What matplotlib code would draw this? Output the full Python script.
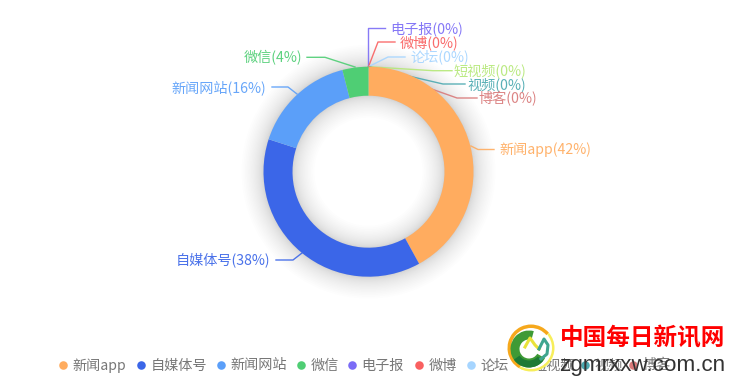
import matplotlib
matplotlib.use("Agg")
import matplotlib.pyplot as plt
from matplotlib.patches import Circle, Wedge

plt.rcParams['font.family'] = ['Noto Sans CJK SC', 'DejaVu Sans']

# Chart data
CATEGORIES = ["新闻app", "自媒体号", "新闻网站", "微信", "电子报", "微博", "论坛", "短视频", "视频", "博客"]
VALUES = [42, 38, 16, 4, 0, 0, 0, 0, 0, 0]

# Styles
COLOURS = ["#FFAC5F", "#3B66E8", "#5B9FF9", "#4FCE74", "#7B6CF6", "#F96060", "#A6D5FF", "#B5E878", "#4BA9B0", "#D97A7A"]
LEGEND_TEXT = "#777777"

W, H = 737, 382
CX, CY = 368.5, 382 - 171.7
R_OUT, R_IN = 105, 76


def flip(y):
    return H - y


# (line points from the ring outwards, label x, label y, alignment), pixels from top left
LABEL_LAYOUT = [
    ([(471, 146), (478, 149.5), (494, 149.5)], 499, 150, "left"),
    ([(302, 253), (293, 260), (276, 260)], 270, 260, "right"),
    ([(297, 94), (288, 87), (272, 87)], 266, 88, "right"),
    ([(355, 67), (325, 57.3), (307, 57.3)], 302, 58, "right"),
    ([(368.5, 66.7), (368.5, 28), (385, 28)], 390, 29, "left"),
    ([(368.5, 66.7), (378, 42), (395, 42)], 400, 43, "left"),
    ([(368.5, 66.7), (388, 57), (405, 57)], 410, 57, "left"),
    ([(368.5, 66.7), (433, 70.7), (452, 70.7)], 453, 71, "left"),
    ([(368.5, 66.7), (443, 84), (465, 84)], 467, 85, "left"),
    ([(368.5, 66.7), (457, 98), (477, 98)], 478, 99, "left"),
]
LEGEND_X = [63, 141, 221, 301, 352, 419, 471, 523, 585, 633]
LEGEND_Y = 365

fig = plt.figure(figsize=(W / 100, H / 100), dpi=100)
ax = fig.add_axes([0, 0, 1, 1])

# soft shadow round the ring, fading out fast
LAYERS = 24
for k in range(1, LAYERS + 1):
    spread = 22 * (k / LAYERS) ** 2
    ax.add_patch(Wedge((CX, CY), R_OUT + spread, 0, 360, width=R_OUT - R_IN + 2 * spread,
                       facecolor="#000000", edgecolor="none", alpha=0.007, zorder=1))

# label lines go under the ring
for (pts, lx, ly, ha), colour in zip(LABEL_LAYOUT, COLOURS):
    ax.plot([p[0] for p in pts], [flip(p[1]) for p in pts], color=colour, lw=1, alpha=0.9, zorder=2)

ax.pie(VALUES, colors=COLOURS, startangle=90, counterclock=False, center=(CX, CY), radius=R_OUT,
       wedgeprops=dict(width=R_OUT - R_IN, linewidth=0, zorder=3), frame=True)

total = sum(VALUES)
for name, value, (pts, lx, ly, ha), colour in zip(CATEGORIES, VALUES, LABEL_LAYOUT, COLOURS):
    ax.text(lx, flip(ly), f"{name}({round(value * 100 / total)}%)", color=colour, fontsize=10.2,
            ha=ha, va="center", alpha=0.92, zorder=5)

# legend
for x, name, colour in zip(LEGEND_X, CATEGORIES, COLOURS):
    ax.scatter([x], [flip(LEGEND_Y)], s=38, color=colour, linewidths=0, zorder=4)
    ax.text(x + 9.5, flip(LEGEND_Y + 0.5), name, color=LEGEND_TEXT, fontsize=10.2, ha="left", va="center", zorder=4)

# watermark logo
LOGO = (531, flip(348))
ax.add_patch(Circle(LOGO, 23, facecolor="white", edgecolor="none", zorder=6))
ax.add_patch(Wedge(LOGO, 23.5, 40, 240, width=3.5, facecolor="#F6A81C", edgecolor="none", zorder=7))
ax.add_patch(Wedge(LOGO, 23.5, 240, 400, width=2.5, facecolor="#F7EE5A", edgecolor="none", zorder=7))
ax.add_patch(Wedge((529, flip(349)), 18.5, 75, 330, width=9, facecolor="#3E9A35", edgecolor="none", zorder=8))
ax.add_patch(Wedge((529, flip(349)), 18.5, 215, 320, width=7, facecolor="#1C7A35", edgecolor="none", zorder=9))
ax.plot([525, 530, 535, 539], [flip(347), flip(338), flip(345), flip(349)], color="#E9E23A", lw=2.2, zorder=10)
ax.plot([539, 544, 548, 547, 541], [flip(349), flip(339), flip(345), flip(354), flip(359)],
        color="#3FA58F", lw=2.2, zorder=10)

# watermark text
ax.text(560, flip(338), "中国每日新讯网", color="#FF0000", fontsize=17, fontweight="bold",
        ha="left", va="center", zorder=11)
ax.text(559, flip(366), "zgmrxxw.com.cn", color="#333333", fontsize=16.2, family=["Liberation Sans"],
        ha="left", va="center", zorder=11)

ax.set_xlim(0, W)
ax.set_ylim(0, H)
ax.set_aspect("auto")
ax.axis("off")

fig.savefig("out.png", dpi=100, facecolor="white")
